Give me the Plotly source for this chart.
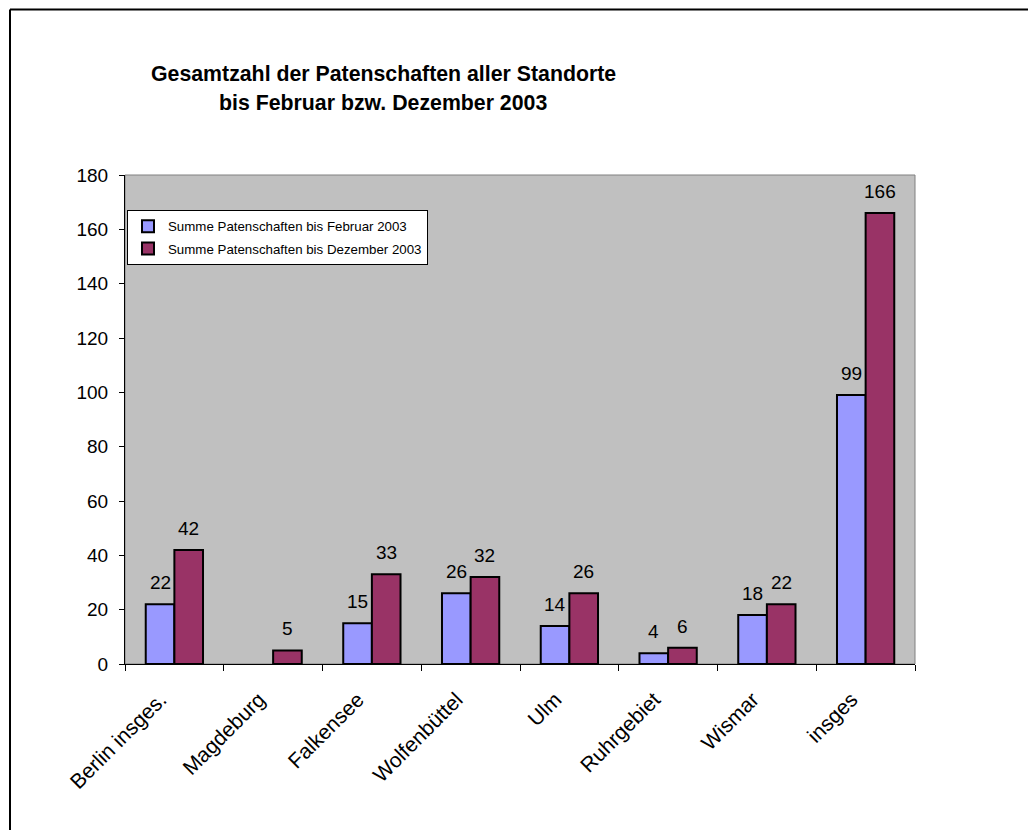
import plotly.graph_objects as go

categories = ["Berlin insges.", "Magdeburg", "Falkensee", "Wolfenbüttel", "Ulm",
              "Ruhrgebiet", "Wismar", "insges"]
feb_2003 = [22, None, 15, 26, 14, 4, 18, 99]
dez_2003 = [42, 5, 33, 32, 26, 6, 22, 166]
series_names = ["Summe Patenschaften bis Februar 2003",
                "Summe Patenschaften bis Dezember 2003"]
title_lines = ["Gesamtzahl der Patenschaften aller Standorte",
               "bis Februar bzw. Dezember 2003"]

W, H = 1028, 830
L, R, T, B = 125, 1028 - 915, 175, 830 - 664
FONT = "Liberation Sans, Arial, sans-serif"
BARGAP = 0.42

fig = go.Figure()
for name, vals, col, grp in [(series_names[0], feb_2003, "#9999FF", "a"),
                             (series_names[1], dez_2003, "#993366", "b")]:
    fig.add_trace(go.Bar(
        x=categories, y=vals, name=name, legendgroup=grp,
        marker=dict(color=col, line=dict(color="black", width=2)),
    ))

pw = W - L - R
ph = H - T - B

def px_x(x):
    return (x - L) / pw

def px_y(y):
    return (H - B - y) / ph

# data labels above bars
half_bar = pw / len(categories) * (1 - BARGAP) / 4
annotations = []
for k, vals in enumerate([feb_2003, dez_2003]):
    for cat, v in zip(categories, vals):
        if v is None:
            continue
        annotations.append(dict(
            x=cat, y=v, xref="x", yref="y", text=str(v), showarrow=False,
            xanchor="center", yanchor="bottom",
            xshift=(-1 if k == 0 else 1) * half_bar, yshift=9,
            font=dict(size=19, color="black", family=FONT)))

annotations += [
    dict(text="<b>%s</b>" % title_lines[0], xref="paper", yref="paper",
         x=px_x(383), y=px_y(74), xanchor="center", yanchor="middle",
         showarrow=False, font=dict(size=21.3)),
    dict(text="<b>%s</b>" % title_lines[1], xref="paper", yref="paper",
         x=px_x(383), y=px_y(103), xanchor="center", yanchor="middle",
         showarrow=False, font=dict(size=21.3)),
]

fig.update_layout(
    width=W, height=H,
    margin=dict(l=L, r=R, t=T, b=B, autoexpand=False),
    paper_bgcolor="white", plot_bgcolor="#C0C0C0",
    font=dict(family=FONT, color="black", size=19),
    barmode="group", bargap=BARGAP, bargroupgap=0,
    showlegend=True,
    legend=dict(x=px_x(127), y=px_y(210), xanchor="left", yanchor="top",
                bgcolor="white", bordercolor="black", borderwidth=1,
                font=dict(size=13.3, family=FONT, color="black"),
                itemwidth=30, tracegroupgap=2, traceorder="grouped"),
    xaxis=dict(showline=True, linecolor="black", linewidth=1, ticks="outside",
               tickson="boundaries", ticklen=6, tickcolor="black", tickangle=-45,
               tickfont=dict(size=21), showgrid=False,
               ticklabelstandoff=14, ticklabelshift=-14),
    yaxis=dict(range=[0, 180], dtick=20, showline=True, linecolor="black", linewidth=1,
               ticks="outside", ticklen=5, tickcolor="black", showgrid=False,
               zeroline=False, tickfont=dict(size=19), ticklabelstandoff=7),
    shapes=[
        dict(type="rect", xref="paper", yref="paper", x0=0, x1=1, y0=0, y1=1,
             line=dict(color="#808080", width=1), layer="below"),
        dict(type="line", xref="paper", yref="paper", x0=px_x(10), x1=px_x(1100),
             y0=px_y(9.5), y1=px_y(9.5), line=dict(color="black", width=2)),
        dict(type="line", xref="paper", yref="paper", x0=px_x(10), x1=px_x(10),
             y0=px_y(9.5), y1=px_y(900), line=dict(color="black", width=2)),
    ],
    annotations=annotations,
)

fig.write_html("out.html")
